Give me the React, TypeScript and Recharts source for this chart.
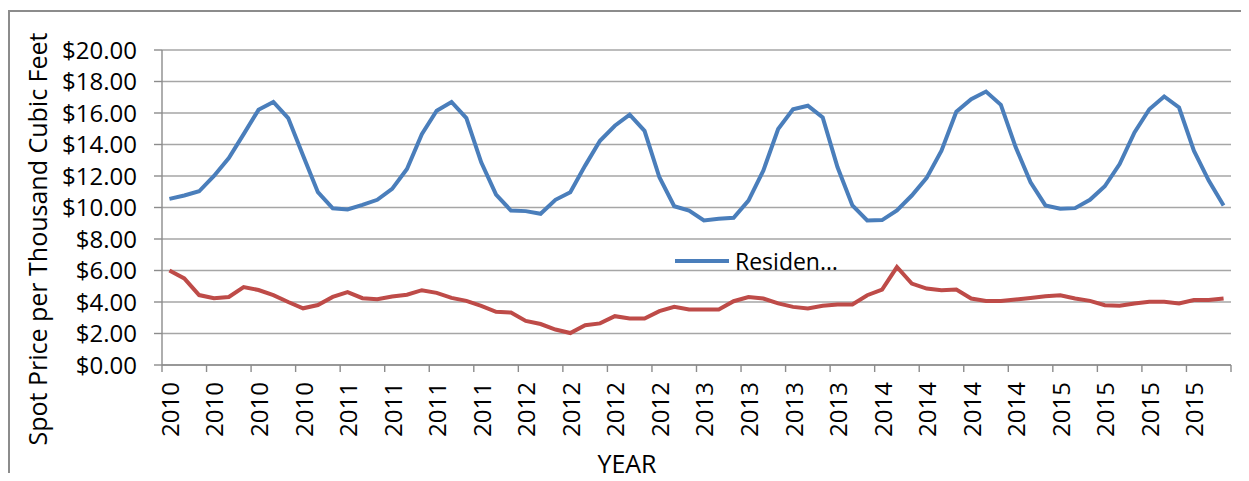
import React from 'react';
import { LineChart, Line, XAxis, YAxis, CartesianGrid, Legend } from 'recharts';

// ---- data ----
const years = [2010, 2011, 2012, 2013, 2014, 2015];
const monthsPerYear = 12;
const labelStep = 3;

const residential = [
  10.55, 10.76, 11.03, 12.0, 13.14, 14.66, 16.2, 16.7, 15.68, 13.3, 10.97, 9.95,
  9.88, 10.17, 10.49, 11.18, 12.45, 14.66, 16.14, 16.7, 15.68, 12.87, 10.82, 9.81,
  9.77, 9.6, 10.49, 10.97, 12.66, 14.24, 15.19, 15.89, 14.87, 11.92, 10.08, 9.8,
  9.18, 9.28, 9.35, 10.44, 12.34, 14.98, 16.24, 16.46, 15.72, 12.55, 10.13, 9.18,
  9.2, 9.81, 10.76, 11.88, 13.61, 16.08, 16.88, 17.36, 16.52, 13.82, 11.6, 10.13,
  9.92, 9.96, 10.49, 11.35, 12.76, 14.77, 16.24, 17.05, 16.35, 13.61, 11.71, 10.13,
];

const henryHub = [
  6.0, 5.5, 4.44, 4.24, 4.32, 4.95, 4.76, 4.44, 4.0, 3.6, 3.81, 4.32,
  4.63, 4.24, 4.17, 4.35, 4.46, 4.75, 4.58, 4.26, 4.07, 3.76, 3.38, 3.33,
  2.8, 2.6, 2.25, 2.03, 2.53, 2.64, 3.1, 2.95, 2.95, 3.42, 3.69, 3.52,
  3.52, 3.52, 4.05, 4.32, 4.22, 3.91, 3.69, 3.59, 3.76, 3.84, 3.84, 4.43,
  4.79, 6.22, 5.17, 4.85, 4.75, 4.79, 4.22, 4.07, 4.07, 4.16, 4.26, 4.37,
  4.43, 4.22, 4.07, 3.8, 3.76, 3.91, 4.01, 4.01, 3.91, 4.12, 4.12, 4.22,
];

const yTicks = [0, 2, 4, 6, 8, 10, 12, 14, 16, 18, 20];
const legendLabel = 'Residen…';
const yTitle = 'Spot Price per Thousand Cubic Feet';
const xTitle = 'YEAR';

// ---- derived ----
const data = residential.map((v, i) => ({
  i,
  year: years[Math.floor(i / monthsPerYear)],
  residential: v,
  henryHub: henryHub[i],
}));
const labelTicks = data.filter((d) => d.i % labelStep === 0).map((d) => d.i);
const boundaryTicks = Array.from(
  { length: data.length / labelStep + 1 },
  (_, k) => k * labelStep - 0.5
);
const allXTicks = [...boundaryTicks, ...labelTicks].sort((a, b) => a - b);
const xDomain = [-0.5, data.length - 0.5];

// ---- style ----
const FONT = '"Open Sans", sans-serif';
const BLUE = '#4A7EBB';
const RED = '#BE4B48';
const GRID = '#A6A6A6';
const AXIS = '#8C8C8C';
const X_TICK_MARGIN = 17;
const X_TICK_LEN = 7;

const XTick = (props: any) => {
  const { x, y, payload } = props;
  const v = payload.value;
  if (!Number.isInteger(v)) {
    const axisY = y - X_TICK_MARGIN;
    return (
      <line x1={x} y1={axisY} x2={x} y2={axisY + X_TICK_LEN} stroke={AXIS} strokeWidth={1.4} />
    );
  }
  const label = years[Math.floor(v / monthsPerYear)];
  return (
    <text
      x={x}
      y={y}
      transform={`rotate(-90 ${x} ${y})`}
      textAnchor="end"
      dominantBaseline="central"
      fontSize={24}
      fontFamily={FONT}
      fill="#000"
    >
      {label}
    </text>
  );
};

const YTitle = () => (
  <text
    x={27}
    y={227}
    transform="rotate(-90 27 227)"
    textAnchor="middle"
    dominantBaseline="central"
    fontSize={25}
    fontFamily={FONT}
    fill="#000"
  >
    {yTitle}
  </text>
);

const XTitle = () => (
  <text
    x={617}
    y={451}
    textAnchor="middle"
    dominantBaseline="central"
    fontSize={25}
    fontFamily={FONT}
    fill="#000"
  >
    {xTitle}
  </text>
);

const LegendContent = () => (
  <div
    style={{
      display: 'flex',
      alignItems: 'center',
      fontFamily: FONT,
      fontSize: 23,
      color: '#000',
      whiteSpace: 'nowrap',
    }}
  >
    <svg width={54} height={8} style={{ display: 'block' }}>
      <line x1={0} y1={4} x2={54} y2={4} stroke={BLUE} strokeWidth={4} />
    </svg>
    <span style={{ marginLeft: 6 }}>{legendLabel}</span>
  </div>
);

export default function App() {
  return (
    <div style={{ paddingTop: 2, marginBottom: -8 }}>
      <div
        style={{
          width: 1241,
          height: 471,
          boxSizing: 'border-box',
          borderTop: `2px solid ${AXIS}`,
          borderLeft: `2px solid ${AXIS}`,
          background: '#fff',
          position: 'relative',
          overflow: 'hidden',
        }}
      >
        <LineChart
          width={1239}
          height={469}
          data={data}
          margin={{ top: 38, right: 18, left: 0, bottom: 0 }}
        >
          <CartesianGrid
            horizontal={true}
            vertical={false}
            stroke={GRID}
            strokeWidth={1.4}
          />
          <XAxis
            type="number"
            dataKey="i"
            domain={xDomain}
            ticks={allXTicks}
            interval={0}
            height={116}
            tickSize={0}
            tickMargin={X_TICK_MARGIN}
            tickLine={false}
            axisLine={{ stroke: AXIS, strokeWidth: 1.4 }}
            tick={<XTick />}
            label={<XTitle />}
          />
          <YAxis
            domain={[0, 20]}
            ticks={yTicks}
            interval={0}
            width={152}
            tickSize={8}
            tickMargin={17}
            tickFormatter={(v: number) => `$${v.toFixed(2)}`}
            tick={{ fontSize: 24, fontFamily: FONT, fill: '#000' }}
            axisLine={{ stroke: AXIS, strokeWidth: 1.4 }}
            tickLine={{ stroke: AXIS, strokeWidth: 1.4 }}
            label={<YTitle />}
          />
          <Legend
            layout="horizontal"
            verticalAlign="middle"
            align="center"
            content={<LegendContent />}
            wrapperStyle={{ position: 'absolute', left: 665, top: 233, width: 'auto', height: 'auto' }}
          />
          <Line
            type="linear"
            dataKey="residential"
            name="Residential"
            stroke={BLUE}
            strokeWidth={4}
            dot={false}
            isAnimationActive={false}
          />
          <Line
            type="linear"
            dataKey="henryHub"
            name="Henry Hub Spot"
            stroke={RED}
            strokeWidth={4}
            dot={false}
            legendType="none"
            isAnimationActive={false}
          />
        </LineChart>
      </div>
    </div>
  );
}
